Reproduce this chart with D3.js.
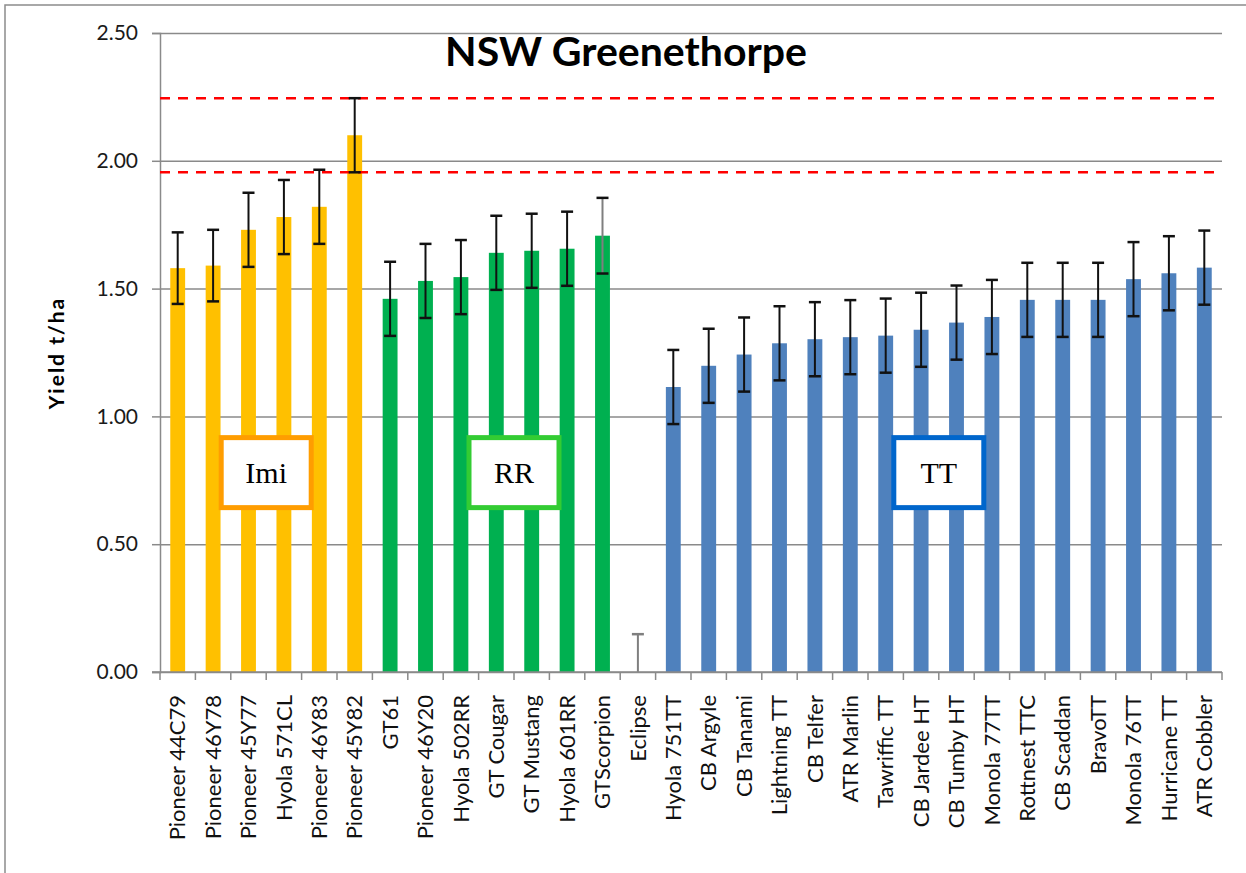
<!DOCTYPE html>
<html>
<head>
<meta charset="utf-8">
<script src="https://cdn.jsdelivr.net/npm/d3@7"></script>
<style>
  body { margin: 0; background: #fff; }
  svg text { font-family: Lato, "Open Sans", sans-serif; }
</style>
</head>
<body>
<div id="chart"></div>
<script>
// datos
const categories = ['Pioneer 44C79', 'Pioneer 46Y78', 'Pioneer 45Y77', 'Hyola 571CL', 'Pioneer 46Y83', 'Pioneer 45Y82',
  'GT61', 'Pioneer 46Y20', 'Hyola 502RR', 'GT Cougar', 'GT Mustang', 'Hyola 601RR', 'GTScorpion',
  'Eclipse', 'Hyola 751TT', 'CB Argyle', 'CB Tanami', 'Lightning TT', 'CB Telfer', 'ATR Marlin', 'Tawriffic TT',
  'CB Jardee HT', 'CB Tumby HT', 'Monola 77TT', 'Rottnest TTC', 'CB Scaddan', 'BravoTT', 'Monola 76TT',
  'Hurricane TT', 'ATR Cobbler'];
const yields = [1.58, 1.59, 1.73, 1.78, 1.82, 2.10,
  1.46, 1.53, 1.545, 1.64, 1.648, 1.656, 1.707,
  0, 1.115, 1.198, 1.242, 1.286, 1.302, 1.31, 1.316,
  1.339, 1.367, 1.389, 1.456, 1.456, 1.456, 1.537,
  1.56, 1.582];
const errors = [0.14, 0.14, 0.145, 0.145, 0.145, 0.145,
  0.145, 0.145, 0.145, 0.145, 0.145, 0.145, 0.148,
  0.148, 0.145, 0.145, 0.145, 0.145, 0.145, 0.145, 0.145,
  0.145, 0.145, 0.145, 0.145, 0.145, 0.145, 0.145,
  0.145, 0.145];
const groups = ['Imi', 'Imi', 'Imi', 'Imi', 'Imi', 'Imi',
  'RR', 'RR', 'RR', 'RR', 'RR', 'RR', 'RR',
  'none', 'TT', 'TT', 'TT', 'TT', 'TT', 'TT', 'TT',
  'TT', 'TT', 'TT', 'TT', 'TT', 'TT', 'TT',
  'TT', 'TT'];
const yTicks = [0, 0.5, 1.0, 1.5, 2.0, 2.5];
const refLines = [1.955, 2.245];
// etiquetas de grupo: posicion en el eje x (limite de categoria) y en el eje y
const groupLabels = ['Imi', 'RR', 'TT'];
const groupLabelAt = [3, 10, 22];
const groupLabelY = [0.78, 0.78, 0.78];

const colors = { Imi: '#FFC000', RR: '#00B050', TT: '#4F81BD', none: '#888' };
const boxColors = { Imi: '#FF9D00', RR: '#33CC33', TT: '#0066CC' };

const svgWidth = 1246;
const svgHeight = 873;
const margin = { top: 33, right: 24, bottom: 201, left: 160 };
const width = svgWidth - margin.left - margin.right;
const height = svgHeight - margin.top - margin.bottom;

const root = d3.select('#chart')
  .append('svg')
  .attr('width', svgWidth)
  .attr('height', svgHeight);

// borde exterior
root.append('rect')
  .attr('x', 5).attr('y', 5)
  .attr('width', svgWidth).attr('height', svgHeight)
  .attr('fill', 'none')
  .attr('stroke', '#8c8c8c')
  .attr('stroke-width', 1.5);

const svg = root.append('g')
  .attr('transform', `translate(${margin.left},${margin.top})`);

const xScale = d3.scaleBand()
  .domain(categories)
  .range([0, width])
  .padding(0);

const yScale = d3.scaleLinear()
  .domain([0, 2.5])
  .range([height, 0]);

const step = xScale.step();
const barW = step * 0.42;
const idx = d => categories.indexOf(d);

// lineas de la grilla
svg.append('g')
  .attr('class', 'grid')
  .call(d3.axisLeft(yScale).tickValues(yTicks).tickSize(-width).tickFormat(''))
  .call(g => g.select('.domain').remove())
  .selectAll('line')
  .attr('stroke', '#8a8a8a')
  .attr('stroke-width', 1.5);

// eje Y
const yAxis = svg.append('g')
  .call(d3.axisLeft(yScale).tickValues(yTicks).tickSize(8).tickPadding(14).tickFormat(d3.format('.2f')));
yAxis.select('.domain').attr('stroke', '#8a8a8a').attr('stroke-width', 1.5);
yAxis.selectAll('.tick line').attr('stroke', '#8a8a8a').attr('stroke-width', 1.5);
yAxis.selectAll('text')
  .style('font-size', '21px')
  .style('font-family', 'Lato, sans-serif')
  .attr('fill', '#1a1a1a');

// barras
svg.selectAll('.bar')
  .data(categories)
  .enter().append('rect')
  .attr('class', 'bar')
  .attr('x', (d) => xScale(d) + (step - barW) / 2)
  .attr('y', d => yScale(yields[idx(d)]))
  .attr('width', barW)
  .attr('height', d => height - yScale(yields[idx(d)]))
  .attr('fill', d => colors[groups[idx(d)]]);

// lineas rojas de referencia
svg.selectAll('.ref')
  .data(refLines)
  .enter().append('line')
  .attr('x1', 0).attr('x2', width)
  .attr('y1', d => yScale(d)).attr('y2', d => yScale(d))
  .attr('stroke', '#FF0000')
  .attr('stroke-width', 2.5)
  .attr('stroke-dasharray', '10,8');

// barras de error
const err = svg.selectAll('.err')
  .data(categories)
  .enter().append('g')
  .attr('class', 'err')
  .attr('transform', d => `translate(${xScale(d) + step / 2},0)`);
err.append('line')
  .attr('y1', d => yScale(Math.max(0, yields[idx(d)] - errors[idx(d)])))
  .attr('y2', d => yScale(yields[idx(d)] + errors[idx(d)]))
  .attr('stroke', d => (idx(d) >= 12 && idx(d) <= 13) ? '#7f7f7f' : '#111')
  .attr('stroke-width', 2);
err.filter(d => yields[idx(d)] > 0).append('line')
  .attr('x1', -6).attr('x2', 6)
  .attr('y1', d => yScale(yields[idx(d)] - errors[idx(d)]))
  .attr('y2', d => yScale(yields[idx(d)] - errors[idx(d)]))
  .attr('stroke', '#111').attr('stroke-width', 2.5);
err.append('line')
  .attr('x1', -6).attr('x2', 6)
  .attr('y1', d => yScale(yields[idx(d)] + errors[idx(d)]))
  .attr('y2', d => yScale(yields[idx(d)] + errors[idx(d)]))
  .attr('stroke', d => yields[idx(d)] > 0 ? '#111' : '#7f7f7f')
  .attr('stroke-width', 2.5);

// eje X
const xAxis = svg.append('g')
  .attr('transform', `translate(0,${height})`)
  .call(d3.axisBottom(xScale).tickSize(0).tickPadding(0));
xAxis.select('.domain').remove();
xAxis.append('line')
  .attr('x1', -8).attr('x2', width)
  .attr('stroke', '#8a8a8a').attr('stroke-width', 1.5);
xAxis.selectAll('.sep')
  .data(d3.range(categories.length + 1))
  .enter().append('line')
  .attr('x1', i => i * step).attr('x2', i => i * step)
  .attr('y1', 0).attr('y2', 8)
  .attr('stroke', '#8a8a8a').attr('stroke-width', 1.5);
xAxis.selectAll('.tick text')
  .attr('transform', 'rotate(-90)')
  .attr('x', -23)
  .attr('y', 0)
  .attr('dy', '0.35em')
  .attr('text-anchor', 'end')
  .style('font-size', '22px')
  .style('font-family', 'Lato, sans-serif')
  .attr('fill', '#111');

// cajas de grupo
const boxes = svg.selectAll('.gbox')
  .data(groupLabels)
  .enter().append('g')
  .attr('class', 'gbox')
  .attr('transform', (d, i) => `translate(${groupLabelAt[i] * step},${yScale(groupLabelY[i])})`);
boxes.append('rect')
  .attr('x', -45).attr('y', -35)
  .attr('width', 90).attr('height', 70)
  .attr('fill', '#fff')
  .attr('stroke', d => boxColors[d])
  .attr('stroke-width', 5);
boxes.append('text')
  .attr('text-anchor', 'middle')
  .attr('y', 10)
  .style('font-family', '"Liberation Serif", "Times New Roman", serif')
  .style('font-size', '30px')
  .attr('fill', '#000')
  .text(d => d);

// titulo
svg.append('text')
  .attr('x', 626 - margin.left)
  .attr('y', 66 - margin.top)
  .attr('text-anchor', 'middle')
  .style('font-size', '41px')
  .style('font-weight', 'bold')
  .attr('fill', '#000')
  .text('NSW Greenethorpe');

// etiqueta eje Y
svg.append('text')
  .attr('transform', 'rotate(-90)')
  .attr('x', -(353 - margin.top))
  .attr('y', 64 - margin.left)
  .attr('text-anchor', 'middle')
  .style('font-size', '21px')
  .style('font-weight', 'bold')
  .style('letter-spacing', '2px')
  .attr('fill', '#000')
  .text('Yield t/ha');
</script>
</body>
</html>
